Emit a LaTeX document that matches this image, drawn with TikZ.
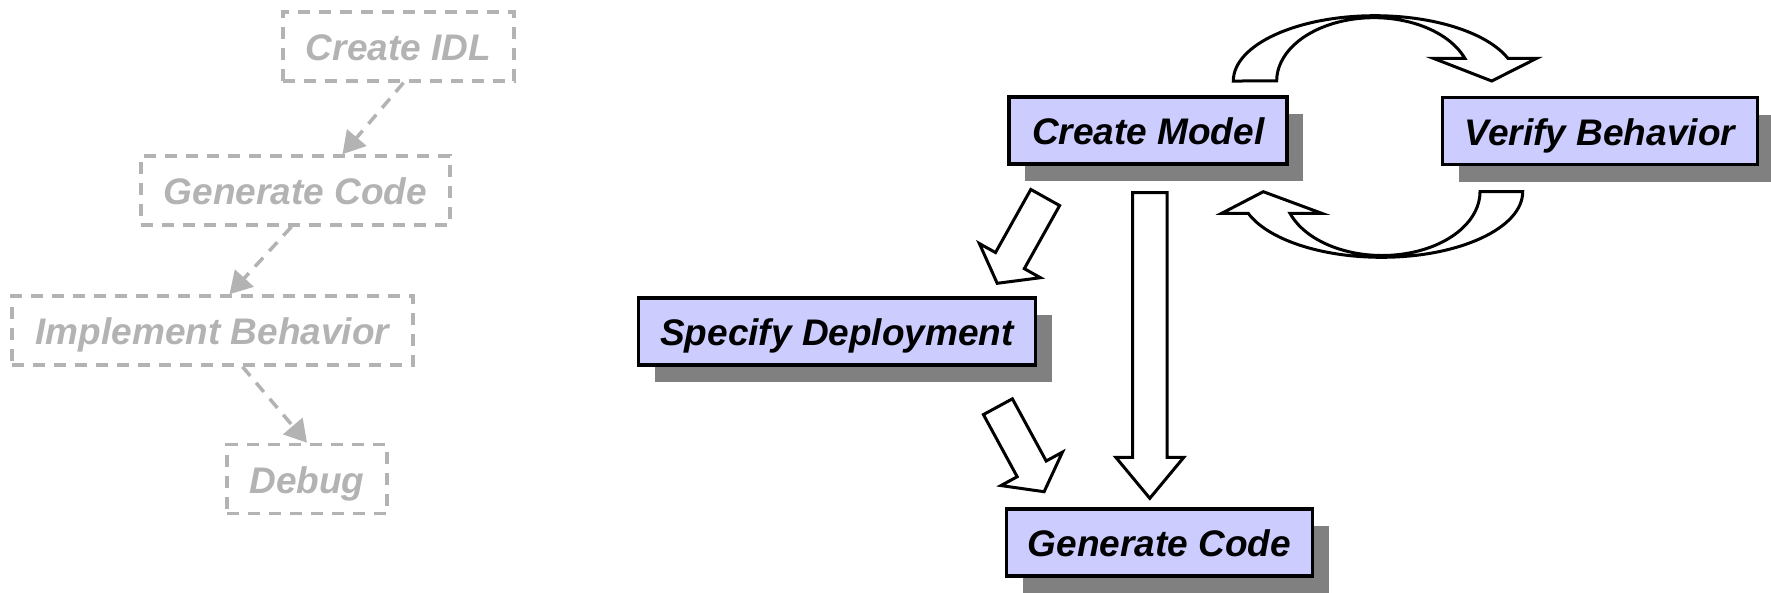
\documentclass[tikz,border=0pt]{standalone}
\usepackage{fontspec}
\setmainfont{Liberation Sans}
\usetikzlibrary{arrows.meta,calc,shadows}
\definecolor{ghost}{RGB}{179,179,179}
\definecolor{lavender}{RGB}{204,204,255}
\definecolor{shade}{RGB}{128,128,128}
\tikzset{
  labelfont/.style={font=\bfseries\itshape\fontsize{37}{44}\selectfont,
    text height=28pt, text depth=0pt},
  oldstep/.style={labelfont, draw=ghost, text=ghost, line width=3.5pt,
    dash pattern=on 12pt off 9pt, minimum height=69pt, inner sep=0pt},
  oldflow/.style={draw=ghost, line width=3.5pt, dash pattern=on 12pt off 9pt,
    -{Triangle[length=22pt,width=25pt,fill=ghost]}},
  newstep/.style={labelfont, draw=black, fill=lavender, line width=3.8pt,
    minimum height=67pt, inner sep=0pt,
    drop shadow={shadow xshift=16pt, shadow yshift=-17pt, fill=shade, opacity=1}},
  blockarrow/.style={draw=black, fill=white, line width=3pt, line join=miter},
}
% straight block arrow: from, to, half shaft width, half head width, head length
\newcommand\blockarrow[5]{%
  \coordinate (ba-h) at ($(#2)!#5!(#1)$);
  \draw[blockarrow] ($(#1)!#3!90:(#2)$) -- ($(ba-h)!#3!90:(#2)$)
    -- ($(ba-h)!#4!90:(#2)$) -- (#2) -- ($(ba-h)!#4!-90:(#2)$)
    -- ($(ba-h)!#3!-90:(#2)$) -- ($(#1)!#3!-90:(#2)$) -- cycle;}
\begin{document}
\begin{tikzpicture}[x=1pt,y=-1pt]
\useasboundingbox (0,0) rectangle (1771,592);

% former process (greyed out)
\node[oldstep, minimum width=231pt] (idl) at (398.5,46.5) {Create IDL};
\node[oldstep, minimum width=309pt] (gen0) at (295.5,190.5) {Generate Code};
\node[oldstep, minimum width=401pt] (impl) at (212.5,330.5) {Implement Behavior};
\node[oldstep, minimum width=160pt] (dbg) at (307,479) {Debug};
\draw[oldflow] ([xshift=5pt]idl.south) -- ([xshift=47pt]gen0.north);
\draw[oldflow] ([xshift=-4pt]gen0.south) -- ([xshift=17pt]impl.north);
\draw[oldflow] ([xshift=30pt]impl.south) -- ([xshift=0pt]dbg.north);

% model-based process
\node[newstep, minimum width=278pt] (model) at (1148.3,130.5) {Create Model};
\node[newstep, minimum width=315pt] (verify) at (1600,131) {Verify Behavior};
\node[newstep, minimum width=397pt] (deploy) at (837,331.5) {Specify Deployment};
\node[newstep, minimum width=306pt] (gen) at (1159.5,542.5) {Generate Code};

% straight block arrows
\coordinate (a1s) at (1045.2,197.5); \coordinate (a1t) at (997.2,283.3);
\coordinate (a2s) at (997.9,406.7);  \coordinate (a2t) at (1044.1,491.7);
\coordinate (a3s) at (1149.8,192.7); \coordinate (a3t) at (1149.8,498.3);
\blockarrow{a1s}{a1t}{16.5pt}{35pt}{26pt}
\blockarrow{a2s}{a2t}{16.5pt}{35pt}{26pt}
\blockarrow{a3s}{a3t}{17.2pt}{34pt}{41pt}

% curved block arrow: model -> verify
\draw[blockarrow] (1233.3,81)
  arc[start angle=180, end angle=339.65, x radius=141.7, y radius=65.3]
  -- (1536.7,58.3) -- (1491.7,81) -- (1433.3,58.3) -- (1464.8,58.3)
  arc[start angle=339, end angle=180, x radius=97.3, y radius=63.3]
  -- cycle;
% curved block arrow: verify -> model
\draw[blockarrow] (1522.7,191.7)
  arc[start angle=0, end angle=160.8, x radius=141.2, y radius=65.6]
  -- (1221.7,213.3) -- (1263.3,191.7) -- (1321.7,213.3) -- (1290,213.3)
  arc[start angle=160.2, end angle=0, x radius=97.9, y radius=63.8]
  -- cycle;
\end{tikzpicture}
\end{document}
